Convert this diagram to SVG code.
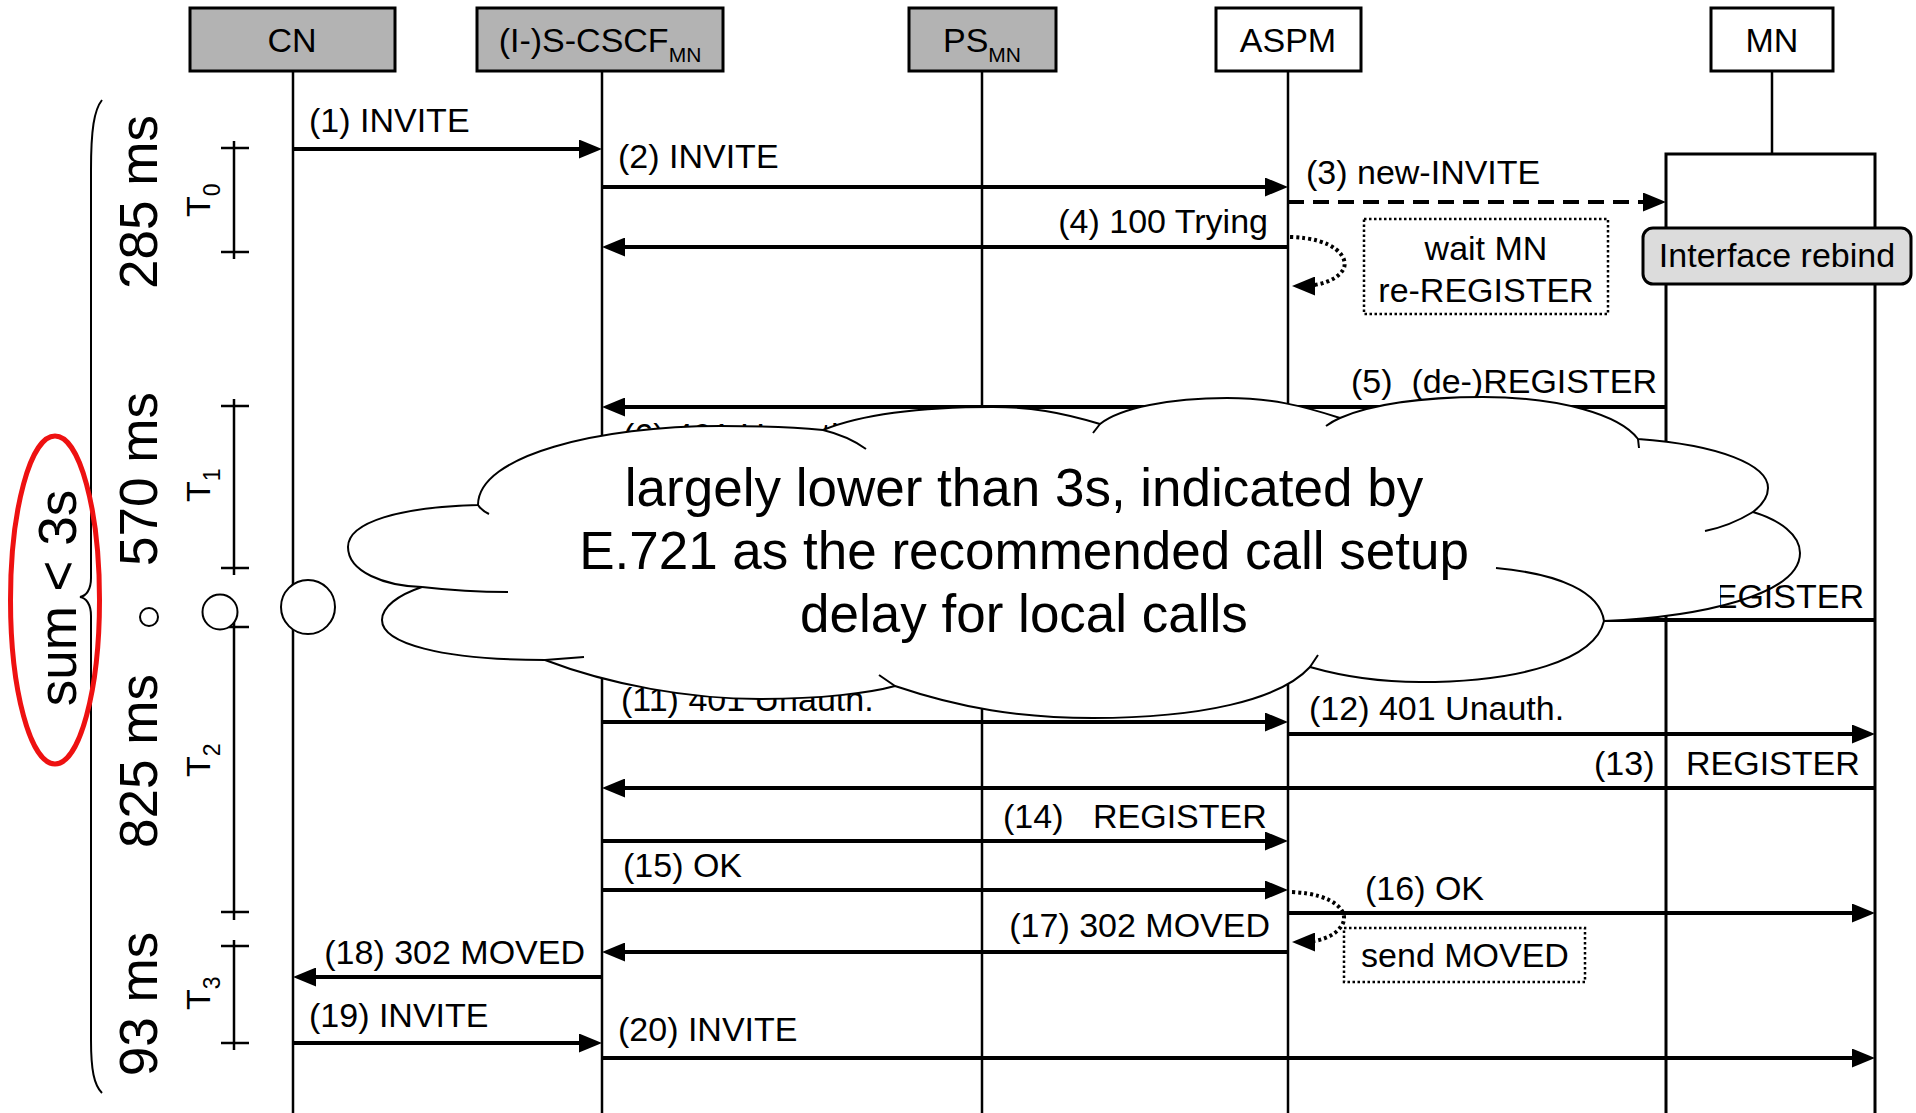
<svg xmlns="http://www.w3.org/2000/svg" width="1916" height="1113" viewBox="0 0 1916 1113">
<style>
text { font-family: "Liberation Sans", Arial, Helvetica, sans-serif; fill: #000; }
.lbl { font-size: 34px; }
.big { font-size: 53px; }
.sub { font-size: 21px; }
.box { stroke: #000; stroke-width: 3; }
.grey { fill: #b3b3b3; }
.white { fill: #fff; }
.life { stroke: #000; stroke-width: 2.5; fill: none; }
.msg { stroke: #000; stroke-width: 4; fill: none; marker-end: url(#ah); }
.plain { stroke: #000; stroke-width: 4; fill: none; }
.dash { stroke-dasharray: 16 9; }
.dot { stroke: #000; stroke-width: 4; fill: none; stroke-dasharray: 3 3; marker-end: url(#ah); }
.dotbox { fill: #fff; stroke: #000; stroke-width: 2.5; stroke-dasharray: 2.5 2.5; }
.tbar { stroke: #000; stroke-width: 2.5; fill: none; }
.cloud { fill: #fff; stroke: #000; stroke-width: 2; }
.cl { fill: none; stroke: #000; stroke-width: 2; }
.tail { fill: #fff; stroke: #000; stroke-width: 2; }
</style>
<defs>
<marker id="ah" viewBox="0 0 23 19" refX="13" refY="9.5" markerWidth="23" markerHeight="19" markerUnits="userSpaceOnUse" orient="auto">
<path d="M0,0 L23,9.5 L0,19 z" fill="#000"/>
</marker>
<clipPath id="clipE"><rect x="1720" y="560" width="196" height="70"/></clipPath>
</defs>
<rect x="0" y="0" width="1916" height="1113" fill="#fff"/>

<!-- nodes -->
<g id="node-CN">
<line class="life" x1="293" y1="71" x2="293" y2="1113"/>
<rect class="box grey" x="190" y="8" width="205" height="63"/>
<text class="lbl" x="292" y="52" text-anchor="middle">CN</text>
</g>
<g id="node-SCSCF">
<line class="life" x1="602" y1="71" x2="602" y2="1113"/>
<rect class="box grey" x="477" y="8" width="246" height="63"/>
<text class="lbl" x="600" y="52" text-anchor="middle">(I-)S-CSCF<tspan class="sub" dy="10">MN</tspan></text>
</g>
<g id="node-PS">
<line class="life" x1="982" y1="71" x2="982" y2="1113"/>
<rect class="box grey" x="909" y="8" width="147" height="63"/>
<text class="lbl" x="982" y="52" text-anchor="middle">PS<tspan class="sub" dy="10">MN</tspan></text>
</g>
<g id="node-ASPM">
<line class="life" x1="1288" y1="71" x2="1288" y2="1113"/>
<rect class="box white" x="1216" y="8" width="145" height="63"/>
<text class="lbl" x="1288" y="52" text-anchor="middle">ASPM</text>
</g>
<g id="node-MN">
<line class="life" x1="1772" y1="71" x2="1772" y2="154"/>
<rect class="box white" x="1711" y="8" width="122" height="63"/>
<text class="lbl" x="1772" y="52" text-anchor="middle">MN</text>
<rect class="box white" x="1666" y="154" width="209" height="970"/>
</g>

<!-- timing bars -->
<g id="timing">
<path class="tbar" d="M234,141 V259 M221,148 H249 M221,252 H249"/>
<path class="tbar" d="M234,399 V575 M221,406 H249 M221,568 H249"/>
<path class="tbar" d="M234,620 V920 M221,627 H249 M221,912 H249"/>
<path class="tbar" d="M234,940 V1050 M221,946 H249 M221,1043 H249"/>
<text class="lbl" transform="translate(210,217) rotate(-90)">T<tspan font-size="23" dy="10">0</tspan></text>
<text class="lbl" transform="translate(210,502) rotate(-90)">T<tspan font-size="23" dy="10">1</tspan></text>
<text class="lbl" transform="translate(210,777) rotate(-90)">T<tspan font-size="23" dy="10">2</tspan></text>
<text class="lbl" transform="translate(210,1010) rotate(-90)">T<tspan font-size="23" dy="10">3</tspan></text>
<text class="big" text-anchor="middle" transform="translate(157,202) rotate(-90)">285 ms</text>
<text class="big" text-anchor="middle" transform="translate(157,479) rotate(-90)">570 ms</text>
<text class="big" text-anchor="middle" transform="translate(157,761) rotate(-90)">825 ms</text>
<text class="big" text-anchor="middle" transform="translate(157,1004) rotate(-90)">93 ms</text>
<path d="M102,100 C94,110 91,130 91,170 L91,578 C91,590 86,596 80,597 C86,598 91,604 91,616 L91,1040 C91,1070 94,1085 102,1093" fill="none" stroke="#000" stroke-width="2"/>
</g>

<!-- connectors -->
<g id="connectors">
<line class="msg" x1="293" y1="149" x2="592" y2="149"/>
<line class="msg" x1="602" y1="187" x2="1278" y2="187"/>
<line class="msg dash" x1="1288" y1="202" x2="1656" y2="202"/>
<line class="msg" x1="1288" y1="247" x2="612" y2="247"/>
<path class="dot" d="M1290,237 C1335,238 1350,258 1343,270 C1336,281 1318,286 1302,286"/>
<line class="msg" x1="1666" y1="407" x2="612" y2="407"/>
<line class="plain" x1="1560" y1="620" x2="1875" y2="620"/>
<line class="msg" x1="602" y1="722" x2="1278" y2="722"/>
<line class="msg" x1="1288" y1="734" x2="1865" y2="734"/>
<line class="msg" x1="1875" y1="788" x2="612" y2="788"/>
<line class="msg" x1="602" y1="841" x2="1278" y2="841"/>
<line class="msg" x1="602" y1="890" x2="1278" y2="890"/>
<path class="dot" d="M1292,892 C1335,894 1350,912 1342,925 C1335,937 1318,942 1302,942"/>
<line class="msg" x1="1288" y1="913" x2="1865" y2="913"/>
<line class="msg" x1="1288" y1="952" x2="612" y2="952"/>
<line class="msg" x1="602" y1="977" x2="303" y2="977"/>
<line class="msg" x1="293" y1="1043" x2="592" y2="1043"/>
<line class="msg" x1="602" y1="1058" x2="1865" y2="1058"/>
</g>

<g id="labels">
<text class="lbl" x="309" y="132">(1) INVITE</text>
<text class="lbl" x="618" y="168">(2) INVITE</text>
<text class="lbl" x="1306" y="184">(3) new-INVITE</text>
<text class="lbl" x="1268" y="233" text-anchor="end">(4) 100 Trying</text>
<text class="lbl" x="1657" y="393" text-anchor="end" xml:space="preserve">(5)  (de-)REGISTER</text>
<text class="lbl" x="623" y="447">(6) 401 Unauth.</text>
<text class="lbl" x="621" y="711">(11) 401 Unauth.</text>
<text class="lbl" x="1309" y="720">(12) 401 Unauth.</text>
<text class="lbl" y="775"><tspan x="1594">(13)</tspan><tspan x="1686">REGISTER</tspan></text>
<text class="lbl" y="828"><tspan x="1003">(14)</tspan><tspan x="1093">REGISTER</tspan></text>
<text class="lbl" x="623" y="877">(15) OK</text>
<text class="lbl" x="1365" y="900">(16) OK</text>
<text class="lbl" x="1270" y="937" text-anchor="end">(17) 302 MOVED</text>
<text class="lbl" x="585" y="964" text-anchor="end">(18) 302 MOVED</text>
<text class="lbl" x="309" y="1027">(19) INVITE</text>
<text class="lbl" x="618" y="1041">(20) INVITE</text>
</g>

<!-- notes -->
<g id="note-wait">
<rect class="dotbox" x="1364" y="219" width="244" height="95"/>
<text class="lbl" x="1486" y="260" text-anchor="middle">wait MN</text>
<text class="lbl" x="1486" y="302" text-anchor="middle">re-REGISTER</text>
</g>
<g id="note-rebind">
<rect x="1643" y="228" width="268" height="56" rx="10" ry="10" fill="#dcdcdc" stroke="#000" stroke-width="3"/>
<text class="lbl" x="1777" y="267" text-anchor="middle">Interface rebind</text>
</g>
<g id="note-moved">
<rect class="dotbox" x="1344" y="928" width="241" height="54"/>
<text class="lbl" x="1465" y="967" text-anchor="middle">send MOVED</text>
</g>

<!-- cloud callout -->
<g id="cloud">
<path class="cloud" d="M478,505 C400,507 348,522 348,547 C348,572 385,586 422,587 C398,595 382,607 382,620 C382,643 440,660 545,660 C610,685 690,699 760,699 C820,699 870,693 895,686 C960,708 1020,718 1093,718 C1200,718 1280,700 1310,667 C1345,677 1380,682 1420,682 C1520,682 1595,660 1604,621 C1700,617 1800,595 1800,553 C1800,535 1780,520 1753,512 C1762,505 1768,498 1768,488 C1768,465 1720,445 1638,439 C1620,415 1560,397 1483,397 C1420,397 1370,405 1340,418 C1300,405 1270,398 1227,398 C1170,398 1120,408 1100,424 C1060,412 1030,407 993,407 C920,407 860,415 823,430 C790,427 755,426 720,426 C600,426 478,455 478,505 Z"/>
<path class="cl" d="M823,430 Q848,436 866,449 M1100,424 L1093,433 M1340,418 Q1333,421 1326,426 M1638,439 L1639,448 M1753,512 Q1730,526 1705,531 M1604,621 C1600,592 1560,574 1496,568 M1310,667 L1318,655 M895,686 L879,675 M545,660 L584,657 M422,587 Q465,592 508,592 M478,505 Q481,510 489,514"/>
<text class="big" x="1024" y="506" text-anchor="middle">largely lower than 3s, indicated by</text>
<text class="big" x="1024" y="569" text-anchor="middle">E.721 as the recommended call setup</text>
<text class="big" x="1024" y="632" text-anchor="middle">delay for local calls</text>
<circle class="tail" cx="308" cy="607" r="27"/>
<circle class="tail" cx="220" cy="612" r="17.5"/>
<circle class="tail" cx="149" cy="617" r="9"/>
</g>

<text class="lbl" x="1864" y="608" text-anchor="end" clip-path="url(#clipE)">REGISTER</text>

<g id="sum">
<ellipse cx="55" cy="600" rx="44.5" ry="164" fill="none" stroke="#ee1111" stroke-width="5"/>
<text class="big" text-anchor="middle" transform="translate(76,598) rotate(-90)">sum &lt; 3s</text>
</g>
</svg>
